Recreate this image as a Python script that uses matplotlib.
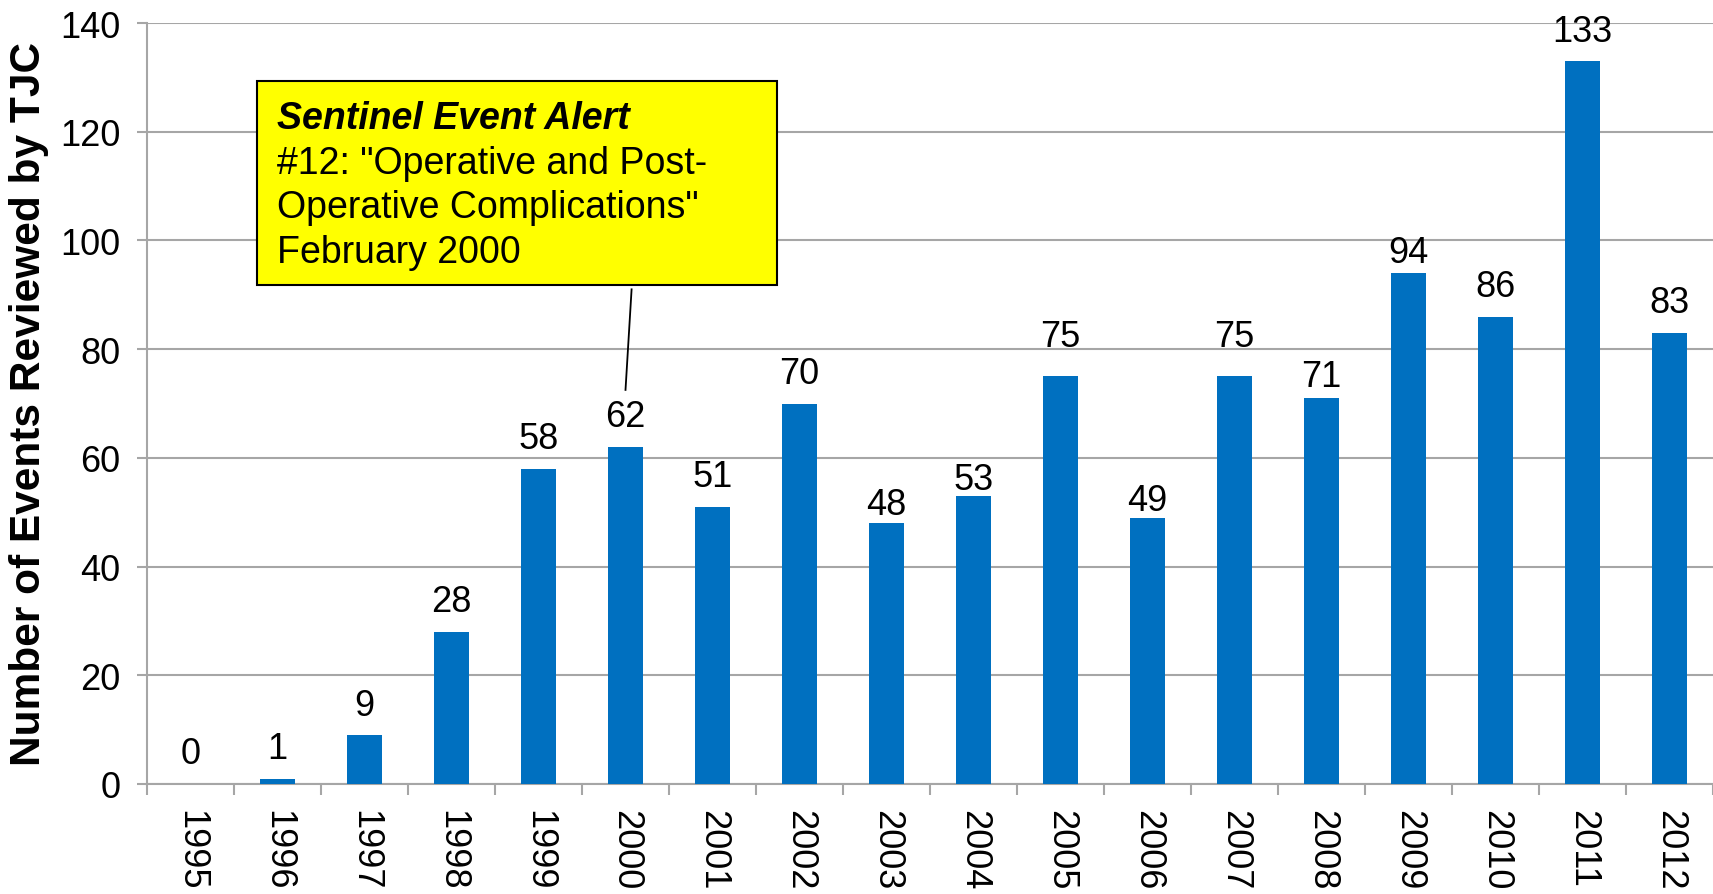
import matplotlib.pyplot as plt
from matplotlib.patches import Rectangle

plt.rcParams['font.family'] = ['Liberation Sans', 'DejaVu Sans']

# Daten
jahre = ['1995', '1996', '1997', '1998', '1999', '2000', '2001', '2002', '2003',
         '2004', '2005', '2006', '2007', '2008', '2009', '2010', '2011', '2012']
ereignisse = [0, 1, 9, 28, 58, 62, 51, 70, 48, 53, 75, 49, 75, 71, 94, 86, 133, 83]

# Verschiebung der Beschriftungen (Punkte), wie im Original
label_versatz = [0, 0, 0, 0, 0, 0, 0, 0, -8, -9.5, 7, -9.5, 7, -6, -6.5, 0, 0, 0]

box_titel = 'Sentinel Event Alert'
box_text = '#12: "Operative and Post-\nOperative Complications"\nFebruary 2000'

grau = '#A6A6A6'

fig = plt.figure(figsize=(17.13, 8.95), dpi=100)
ax = fig.add_axes([147 / 1713, 1 - 785 / 895, 1 - 147 / 1713, (785 - 24) / 895])

x = list(range(len(jahre)))
ax.bar(x, ereignisse, width=0.40, color='#0070C0', zorder=3)
for xi, wert, dv in zip(x, ereignisse, label_versatz):
    ax.annotate(str(wert), (xi, wert), xytext=(0, 9 + dv), textcoords='offset points',
                ha='center', va='bottom', fontsize=26)

ax.set_xlim(-0.5, len(jahre) - 0.5)
ax.set_ylim(0, 140)
ax.set_yticks(range(0, 141, 20))
ax.set_xticks(x)
ax.set_xticklabels(jahre, rotation=-90)
ax.set_xticks([i - 0.5 for i in range(len(jahre) + 1)], minor=True)

ax.tick_params(axis='x', which='major', length=0, pad=18, labelsize=26)
ax.tick_params(axis='x', which='minor', length=8, width=1.5, color=grau, direction='out')
ax.tick_params(axis='y', length=7, width=1.5, color=grau, pad=12, labelsize=26)

ax.grid(axis='y', color=grau, linewidth=1.5, zorder=0)
for s in ['top', 'right']:
    ax.spines[s].set_visible(False)
for s in ['left', 'bottom']:
    ax.spines[s].set_color(grau)
    ax.spines[s].set_linewidth(1.5)

ax.set_ylabel('Number of Events Reviewed by TJC', fontsize=30.5, fontweight='bold', labelpad=8)

# Hinweisbox
ax.add_patch(Rectangle((0.76, 91.8), 5.98, 37.6, facecolor='#FFFF00', edgecolor='black',
                       linewidth=1.5, zorder=5))
ax.plot([5.07, 5.0], [91.0, 72.5], color='black', linewidth=1.3, zorder=5)
ax.text(0.99, 125.9, box_titel, fontsize=27, fontweight='bold', style='italic',
        va='top', ha='left', zorder=6)
ax.text(0.99, 117.6, box_text, fontsize=27, va='top', ha='left', linespacing=1.3, zorder=6)

fig.savefig('out.png', dpi=100)
